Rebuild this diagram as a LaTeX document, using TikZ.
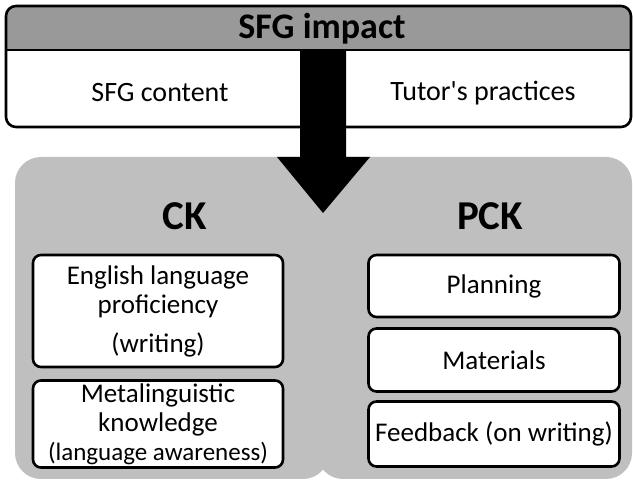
\documentclass[tikz,border=0pt]{standalone}
\usepackage{fontspec}
\setmainfont{Carlito}
\begin{document}
\begin{tikzpicture}[x=1pt,y=-1pt,
  panel/.style={fill=panelgray, rounded corners=26pt},
  item/.style={draw=black, line width=2.6pt, fill=white, rounded corners=8pt, align=center, font=\fontsize{27}{29}\selectfont, inner sep=0pt},
  head/.style={font=\bfseries\fontsize{41}{45}\selectfont},
  lbl/.style={font=\fontsize{28}{32}\selectfont}]
\definecolor{panelgray}{HTML}{BFBFBF}
\definecolor{headgray}{HTML}{999999}
\useasboundingbox (0,0) rectangle (633,481);
% gray panels
\fill[panel] (15,157) rectangle (329,479);
\fill[panel] (317,157) rectangle (632,479);
% top box
\begin{scope}
  \clip[rounded corners=10pt] (6,6) rectangle (631,127);
  \fill[white] (6,6) rectangle (631,127);
  \fill[headgray] (6,6) rectangle (631,50);
\end{scope}
\draw[line width=2.6pt, rounded corners=10pt] (6,6) rectangle (631,127);
\draw[line width=2.2pt] (6,50) -- (631,50);
\node[font=\bfseries\fontsize{36}{40}\selectfont] (impact) at (322,29) {SFG impact};
\node[lbl] (content) at (160,93) {SFG content};
\node[lbl] (practices) at (483,93) {Tutor\textquotesingle s practices};
% arrow
\fill[black] (300,50) -- (346,50) -- (346,157) -- (370,157) -- (323,213) -- (277,157) -- (300,157) -- cycle;
% headings
\node[head] (ck) at (185,216) {CK};
\node[head] (pck) at (490,216) {PCK};
% left boxes
\node[item, minimum width=250pt, minimum height=112pt] (elp) at (158,311)
  {English language\\ proficiency\\[10pt] (writing)};
\node[item, minimum width=250pt, minimum height=87pt] (meta) at (158,424)
  {Metalinguistic\\ knowledge\\ {\fontsize{25}{27}\selectfont (language awareness)}};
% right boxes
\node[item, minimum width=251pt, minimum height=62pt] (plan) at (494,286) {Planning};
\node[item, minimum width=251pt, minimum height=63pt] (mat) at (494,360) {Materials};
\node[item, minimum width=251pt, minimum height=65pt] (feed) at (494,434) {Feedback (on writing)};
\end{tikzpicture}
\end{document}
